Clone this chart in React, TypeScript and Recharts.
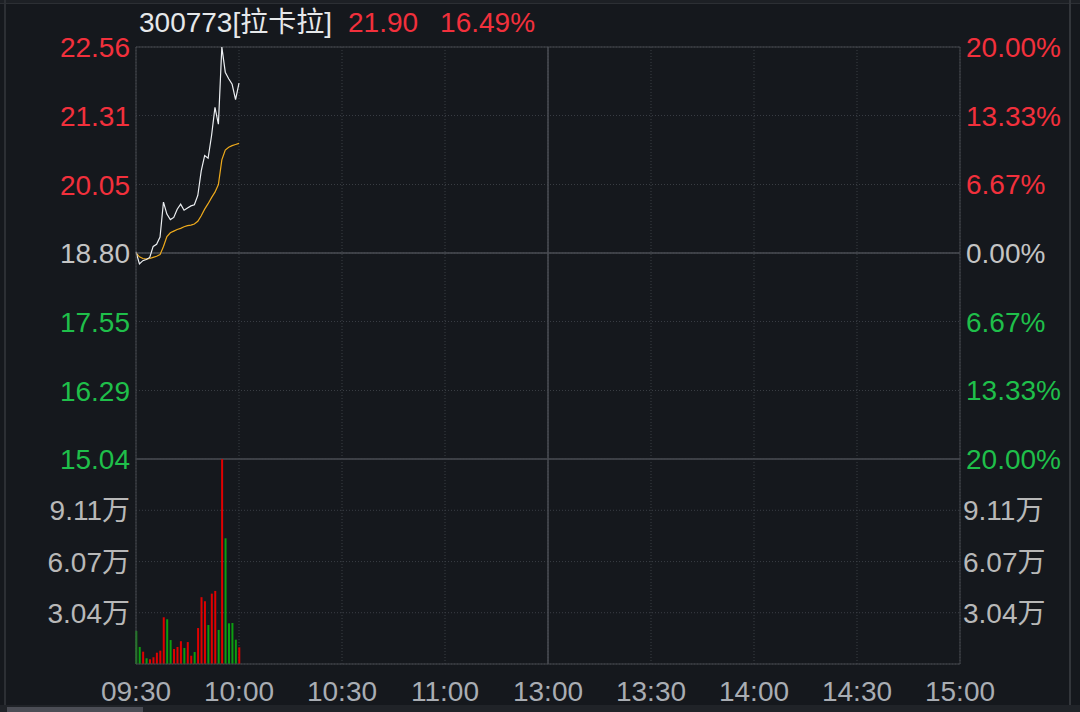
import React from "react";
import {
  Bar,
  CartesianGrid,
  Cell,
  ComposedChart,
  Line,
  ReferenceLine,
  XAxis,
  YAxis,
} from "recharts";

// 300773 拉卡拉 分时图 (only the first half hour traded so far)
const PREV_CLOSE = 18.8;

const TIMES = [
  "09:30", "09:31", "09:32", "09:33", "09:34", "09:35", "09:36", "09:37",
  "09:38", "09:39", "09:40", "09:41", "09:42", "09:43", "09:44", "09:45",
  "09:46", "09:47", "09:48", "09:49", "09:50", "09:51", "09:52", "09:53",
  "09:54", "09:55", "09:56", "09:57", "09:58", "09:59", "10:00",
];

const PRICE = [
  18.82, 18.6, 18.66, 18.68, 18.72, 18.92, 18.96, 19.09, 19.73, 19.51, 19.41,
  19.45, 19.6, 19.69, 19.58, 19.62, 19.66, 19.68, 19.85, 20.3, 20.58, 20.53,
  20.94, 21.46, 21.15, 22.56, 22.1, 21.98, 21.88, 21.6, 21.9,
];

const AVG = [
  18.8, 18.73, 18.7, 18.69, 18.7, 18.72, 18.74, 18.77, 18.92, 19.1, 19.17,
  19.2, 19.23, 19.25, 19.28, 19.3, 19.31, 19.33, 19.38, 19.48, 19.6, 19.7,
  19.81, 19.91, 20.05, 20.5, 20.68, 20.73, 20.76, 20.78, 20.8,
];

// 成交量 (万)
const VOLUME = [
  1.96, 1.01, 0.73, 0.34, 0.28, 0.4, 0.67, 0.79, 2.77, 2.65, 1.42, 0.89, 1.01,
  1.35, 0.95, 1.3, 0.49, 0.71, 2.13, 3.96, 3.72, 2.31, 4.17, 4.33, 2.02, 12.14,
  7.45, 2.41, 2.43, 1.44, 0.99,
];
// r = 上涨, g = 下跌
const VOL_DIR = [
  "g", "g", "r", "g", "r", "r", "r", "r", "r", "g", "g", "r", "r", "r", "g", "r",
  "r", "g", "r", "r", "r", "g", "r", "r", "g", "r", "g", "g", "g", "g", "r",
];

const PRICE_TICKS = [22.56, 21.31, 20.05, 18.8, 17.55, 16.29, 15.04];
const PCT_TICKS = [20, 13.33, 6.67, 0, -6.67, -13.33, -20];
const VOL_TICKS = [3.04, 6.07, 9.11];
const VOL_MAX = 12.15;
const TIME_TICKS = [
  "09:30", "10:00", "10:30", "11:00", "13:00", "13:30", "14:00", "14:30", "15:00",
];

const BG = "#15181d";
const RED = "#f2303c";
const GREEN = "#1fbf4a";
const GRAY = "#c4c4c4";
const GRID = "#3a3e45";
const FRAME = "#44474d";
const FONT = "'Liberation Sans', 'Noto Sans CJK SC', sans-serif";
const FS = 28;

// 分钟序号, 午休 11:30-13:00 合并
const toMinute = (t: string) => {
  const [h, m] = t.split(":").map(Number);
  const v = h * 60 + m - 570;
  return v > 120 ? v - 90 : v;
};

const data = TIMES.map((t, i) => ({
  m: toMinute(t),
  price: PRICE[i],
  avg: AVG[i],
  vol: VOLUME[i],
}));

const signColor = (v: number) => (v > 1e-6 ? RED : v < -1e-6 ? GREEN : GRAY);

const PriceTick = (p: any) => (
  <text x={p.x} y={p.y} dy="0.36em" textAnchor="end" fontSize={FS} fontFamily={FONT}
    fill={signColor(p.payload.value - PREV_CLOSE)}>
    {p.payload.value.toFixed(2)}
  </text>
);

const PctTick = (p: any) => (
  <text x={p.x} y={p.y} dy="0.36em" textAnchor="start" fontSize={FS} fontFamily={FONT}
    fill={signColor(p.payload.value)}>
    {Math.abs(p.payload.value).toFixed(2) + "%"}
  </text>
);

const VolTick = (p: any) => (
  <text x={p.x} y={p.y} dy="0.36em" textAnchor={p.textAnchor} fontSize={FS}
    fontFamily={FONT} fill="#b8b8b8">
    {p.payload.value.toFixed(2) + "万"}
  </text>
);

const TimeTick = (p: any) => (
  <text x={p.x} y={p.y} dy="0.36em" textAnchor="middle" fontSize={FS} fontFamily={FONT}
    fill="#a9adb3">
    {TIME_TICKS.find((t) => toMinute(t) === p.payload.value)}
  </text>
);

export default function App() {
  const xTicks = TIME_TICKS.map(toMinute);
  return (
    <div style={{ position: "absolute", left: 0, top: 0, width: 1080, height: 712,
      background: BG, overflow: "hidden", fontFamily: FONT }}>
      <style>{".recharts-surface{overflow:visible}"}</style>

      {/* window frame */}
      <div style={{ position: "absolute", left: 0, top: 0, width: 1080, height: 3, background: "#1d2025" }} />
      <div style={{ position: "absolute", left: 0, top: 3, width: 1080, height: 1, background: "#2c2f34" }} />
      <div style={{ position: "absolute", left: 4, top: 0, width: 2, height: 712, background: "#2c2f34" }} />
      <div style={{ position: "absolute", left: 1069, top: 0, width: 2, height: 712, background: "#33363b" }} />
      <div style={{ position: "absolute", left: 0, top: 705, width: 1080, height: 7, background: "#202328" }} />
      <div style={{ position: "absolute", left: 7, top: 707, width: 136, height: 5, background: "#4b4d55" }} />

      <div style={{ position: "absolute", left: 139, top: 6, fontSize: FS, lineHeight: "34px",
        color: "#e6e8ea", whiteSpace: "nowrap" }}>
        300773[拉卡拉]
        <span style={{ color: RED, marginLeft: 16 }}>21.90</span>
        <span style={{ color: RED, marginLeft: 22 }}>16.49%</span>
      </div>

      {/* 价格 */}
      <div style={{ position: "absolute", left: 0, top: 0 }}>
        <ComposedChart width={1080} height={459} data={data}
          margin={{ top: 47, right: 0, bottom: 0, left: 0 }}>
          <CartesianGrid yAxisId="price" stroke={GRID} strokeDasharray="1 2" />
          <XAxis dataKey="m" type="number" domain={[0, 240]} ticks={xTicks} hide />
          <YAxis yAxisId="price" domain={[15.04, 22.56]} ticks={PRICE_TICKS} interval={0}
            width={136} tickSize={0} tickMargin={6} tick={PriceTick}
            axisLine={{ stroke: FRAME }} allowDataOverflow />
          <YAxis yAxisId="pct" orientation="right" domain={[-20, 20]} ticks={PCT_TICKS}
            interval={0} width={120} tickSize={0} tickMargin={6} tick={PctTick}
            axisLine={{ stroke: FRAME }} allowDataOverflow />
          <ReferenceLine yAxisId="price" y={22.56} stroke={FRAME} />
          <ReferenceLine yAxisId="price" y={PREV_CLOSE} stroke="#4a4d53" strokeWidth={1.5} />
          <ReferenceLine yAxisId="price" y={15.04} stroke="#4a4d53" strokeWidth={1.5} />
          <ReferenceLine yAxisId="price" x={120} stroke="#4a4d53" strokeWidth={1.5} />
          <Line yAxisId="price" dataKey="avg" stroke="#eeaa1c" strokeWidth={1.2}
            dot={false} activeDot={false} isAnimationActive={false} />
          <Line yAxisId="price" dataKey="price" stroke="#eceff2" strokeWidth={1.2}
            dot={false} activeDot={false} isAnimationActive={false} />
        </ComposedChart>
      </div>

      {/* 成交量 */}
      <div style={{ position: "absolute", left: 0, top: 459 }}>
        <ComposedChart width={1080} height={253} data={data}
          margin={{ top: 0, right: 0, bottom: 0, left: 0 }}>
          <CartesianGrid yAxisId="vol" stroke={GRID} strokeDasharray="1 2" />
          <XAxis dataKey="m" type="number" domain={[0, 240]} ticks={xTicks} interval={0}
            height={48} tickSize={0} tickMargin={27} tick={TimeTick}
            axisLine={{ stroke: FRAME }} />
          <YAxis yAxisId="vol" domain={[0, VOL_MAX]} ticks={VOL_TICKS} interval={0}
            width={136} tickSize={0} tickMargin={6} tick={VolTick}
            axisLine={{ stroke: FRAME }} allowDataOverflow />
          <YAxis yAxisId="vr" orientation="right" domain={[0, VOL_MAX]} ticks={VOL_TICKS}
            interval={0} width={120} tickSize={0} tickMargin={3} tick={VolTick}
            axisLine={{ stroke: FRAME }} allowDataOverflow />
          <ReferenceLine yAxisId="vol" x={120} stroke="#4a4d53" strokeWidth={1.5} />
          <Bar yAxisId="vol" dataKey="vol" barSize={2} isAnimationActive={false}>
            {data.map((_, i) => (
              <Cell key={i} fill={VOL_DIR[i] === "r" ? "#e00000" : "#0c9e10"} />
            ))}
          </Bar>
        </ComposedChart>
      </div>
    </div>
  );
}
